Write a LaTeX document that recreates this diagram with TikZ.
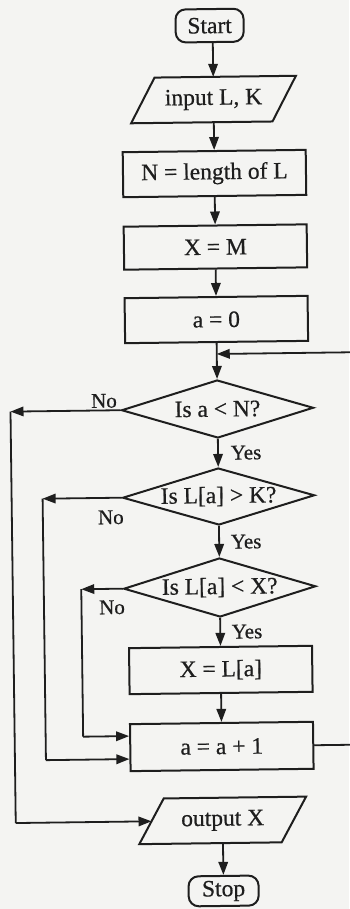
\documentclass[tikz,border=0pt]{standalone}
\usepackage{fontspec}
\setmainfont{Liberation Serif}[FakeBold=0.6]
\usetikzlibrary{shapes.geometric,arrows.meta}
\definecolor{ink}{RGB}{30,30,30}
\definecolor{paper}{RGB}{244,244,242}
\begin{document}
\begin{tikzpicture}[x=1pt,y=-1pt,
  font=\fontsize{23.5pt}{27pt}\selectfont,
  every node/.style={text=ink},
  ln/.style={draw=ink,line width=2pt},
  box/.style={ln,rectangle,minimum width=183pt,minimum height=45pt,inner sep=0pt},
  term/.style={ln,rectangle,rounded corners=10pt,minimum width=68pt,minimum height=33pt,inner sep=0pt},
  io/.style={rectangle,minimum width=141pt,minimum height=45pt,inner sep=0pt},
  dec/.style={ln,diamond,aspect=3.3,minimum width=192pt,minimum height=58pt,inner sep=0pt},
  arr/.style={draw=ink,line width=1.8pt,-{Triangle[length=13pt,width=9.5pt]}},
  wire/.style={draw=ink,line width=1.8pt},
  lbl/.style={font=\fontsize{21pt}{25pt}\selectfont,inner sep=0pt}]
\fill[paper] (0,0) rectangle (349,909);
\useasboundingbox (0,0) rectangle (349,909);
\begin{scope}[rotate around={0.73:(218,450)},transform shape]
  % nodes
  \node[term] (start) at (215,25.5) {Start};
  \node[io] (in) at (218,99.5) {input L, K};
  \draw[ln] ([xshift=12pt]in.north west) -- ([xshift=12pt]in.north east) -- ([xshift=-12pt]in.south east) -- ([xshift=-12pt]in.south west) -- cycle;
  \node[box] (nlen) at (218,173.5) {N = length of L};
  \node[box,minimum height=43pt] (xm) at (218,247) {X = M};
  \node[box] (a0) at (218,319.5) {a = 0};
  \coordinate (j1) at (218,354);
  \node[dec] (d1) at (218,409) {Is a < N?};
  \node[dec,minimum height=57pt] (d2) at (218,496.5) {Is L[a] > K?};
  \node[dec,minimum height=59pt] (d3) at (218,587.5) {Is L[a] < X?};
  \node[box,minimum height=46pt] (xl) at (218,670) {X = L[a]};
  \node[box,minimum height=47pt] (inc) at (218,746.5) {a = a + 1};
  \node[io,minimum width=142pt] (out) at (218,820.5) {output X};
  \draw[ln] ([xshift=12.5pt]out.north west) -- ([xshift=12.5pt]out.north east) -- ([xshift=-12.5pt]out.south east) -- ([xshift=-12.5pt]out.south west) -- cycle;
  \node[term,minimum width=70pt,minimum height=30pt] (stop) at (218,891) {Stop};
  % corner coordinates
  \coordinate (c1a) at (11,409);
  \coordinate (c1b) at (11,820.5);
  \coordinate (c2a) at (42,496.5);
  \coordinate (c2b) at (42,758);
  \coordinate (c3a) at (79.5,587.5);
  \coordinate (c3b) at (79.5,735);
  \coordinate (r1) at (362,746.5);
  \coordinate (r2) at (362,354);
  % main flow
  \draw[arr] (start.south -| in.north) -- (in.north);
  \draw[arr] ([yshift=1pt]in.south) -- (nlen.north);
  \draw[arr] (nlen.south) -- (xm.north);
  \draw[arr] (xm.south) -- (a0.north);
  \draw[arr] (a0.south) -- (d1.north);
  \draw[arr] (d1.south) -- (d2.north);
  \draw[arr] (d2.south) -- (d3.north);
  \draw[arr] (d3.south) -- (xl.north);
  \draw[arr] (xl.south) -- (inc.north);
  \draw[arr] ([yshift=1pt]out.south) -- (stop.north);
  % No branches
  \draw[arr] (d1.west) -- (c1a);
  \draw[wire] (c1a) -- (c1b);
  \draw[arr] (c1b) -- (out.west);
  \draw[arr] (d2.west) -- (c2a);
  \draw[wire] (c2a) -- (c2b);
  \draw[arr] (c2b) -- ([yshift=-11.5pt]inc.west);
  \draw[arr] (d3.west) -- (c3a);
  \draw[wire] (c3a) -- (c3b);
  \draw[arr] (c3b) -- ([yshift=11.5pt]inc.west);
  % loop back
  \draw[wire] (inc.east) -- (r1) -- (r2);
  \draw[arr] (r2) -- (j1);
  % labels
  \node[lbl] (no1) at (104.6,399.5) {No};
  \node[lbl] (no2) at (110,516) {No};
  \node[lbl] (no3) at (110,606) {No};
  \node[lbl] (yes1) at (246,453) {Yes};
  \node[lbl] (yes2) at (245,542) {Yes};
  \node[lbl] (yes3) at (244.7,632) {Yes};
\end{scope}
\end{tikzpicture}
\end{document}
